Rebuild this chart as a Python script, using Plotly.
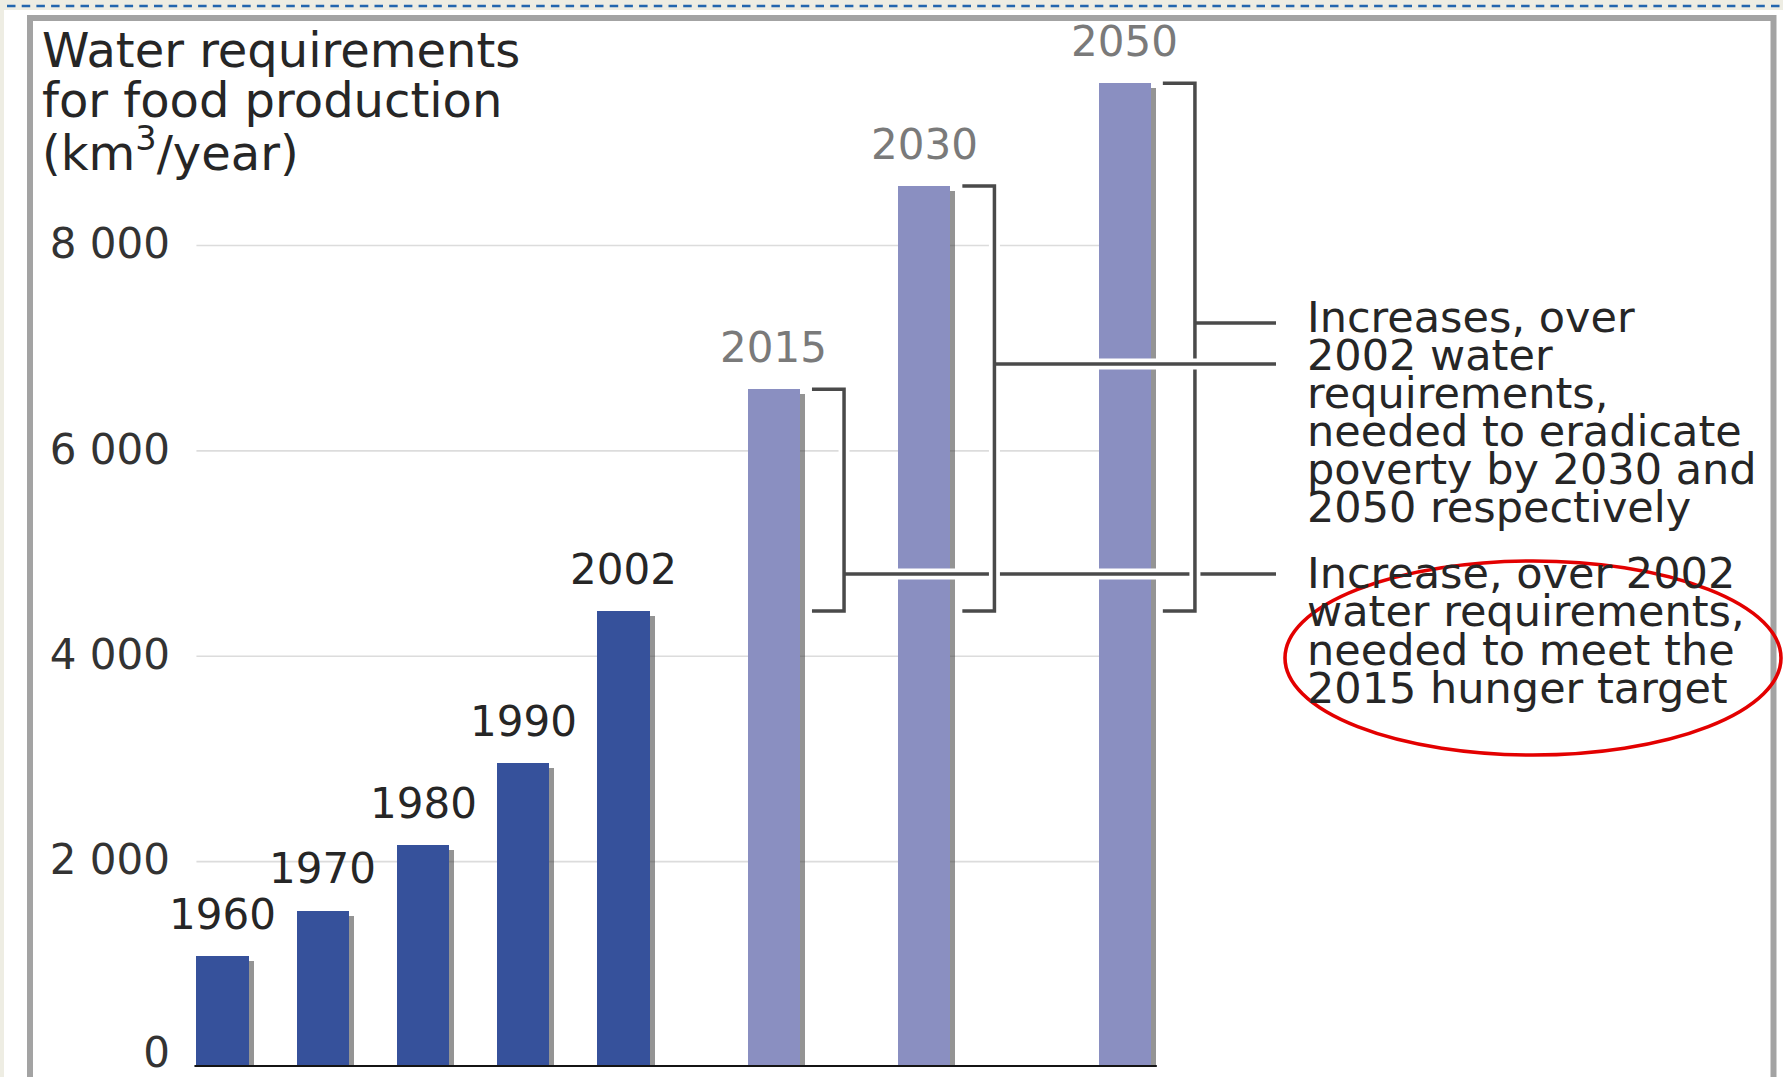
import plotly.graph_objects as go

# ---- data -------------------------------------------------------------
years = ["1960", "1970", "1980", "1990", "2002", "2015", "2030", "2050"]
water_km3 = [1080, 1520, 2160, 2960, 4440, 6600, 8580, 9580]
is_projection = [False, False, False, False, False, True, True, True]
baseline_year = "2002"

y_tick_values = [0, 2000, 4000, 6000, 8000]
y_tick_labels = ["0", "2 000", "4 000", "6 000", "8 000"]

title_lines = ["Water requirements", "for food production", "(km<sup>3</sup>/year)"]
note_poverty = ["Increases, over", "2002 water", "requirements,",
                "needed to eradicate", "poverty by 2030 and", "2050 respectively"]
note_hunger = ["Increase, over 2002", "water requirements,",
               "needed to meet the", "2015 hunger target"]

# ---- layout constants -------------------------------------------------
W, H = 1783, 1077
ML, MR, MT, MB = 190, 0, 0, 10
PLOT_W, PLOT_H = W - ML - MR, H - MT - MB
SLOT_PX = 100.25          # pixels per horizontal slot
SLOT0_PX = 222.5          # pixel centre of the first slot
PX_PER_KM3 = 0.10268      # vertical scale
slots = [0, 1, 2, 3, 4, 5.5, 7, 9]   # wider gaps before the projections
BAR_W = 0.52

FONT = "DejaVu Sans"
TEXT = "#262626"
DARK_BAR = "#36519B"
LIGHT_BAR = "#8A8FC1"
LINE = "#4A4A4A"

x_range = [(ML - SLOT0_PX) / SLOT_PX, (W - MR - SLOT0_PX) / SLOT_PX]
y_range = [0, PLOT_H / PX_PER_KM3]


def px_x(px):
    return (px - SLOT0_PX) / SLOT_PX


def px_y(py):
    return (H - MB - py) / PX_PER_KM3


def paper_x(px):
    return (px - ML) / PLOT_W


def paper_y(py):
    return (H - MB - py) / PLOT_H


bar_colors = [LIGHT_BAR if p else DARK_BAR for p in is_projection]
label_colors = ["#7a7a7a" if p else TEXT for p in is_projection]

fig = go.Figure()

# soft drop shadow on the right of each bar (base axis)
fig.add_trace(go.Bar(
    x=[s + 0.05 for s in slots], y=[v - 45 for v in water_km3], width=BAR_W,
    marker=dict(color="rgba(60,60,60,0.55)", line=dict(width=0)),
    hoverinfo="skip", showlegend=False, yaxis="y",
))
# the bars themselves, on the overlaid axis so they sit above the shadows
fig.add_trace(go.Bar(
    x=slots, y=water_km3, width=BAR_W, customdata=years,
    marker=dict(color=bar_colors, line=dict(width=0)),
    hovertemplate="%{customdata}: %{y} km³/year<extra></extra>",
    showlegend=False, yaxis="y2",
))

shapes = []
annotations = []

# page background: cream margin, white panel with grey frame, dashed rule
shapes.append(dict(type="rect", xref="paper", yref="paper", layer="below",
                   x0=paper_x(4), x1=paper_x(1800), y0=paper_y(1100), y1=paper_y(10),
                   fillcolor="white", line=dict(width=0)))
shapes.append(dict(type="rect", xref="paper", yref="paper", layer="below",
                   x0=paper_x(30), x1=paper_x(1773.5), y0=paper_y(1110), y1=paper_y(18),
                   fillcolor="rgba(0,0,0,0)", line=dict(color="#a3a3a3", width=6)))
shapes.append(dict(type="line", xref="paper", yref="paper", layer="below",
                   x0=paper_x(7), x1=paper_x(1783), y0=paper_y(6), y1=paper_y(6),
                   line=dict(color="#2366ae", width=2.5, dash="8.5px,6.2px")))

x_left = slots[0] - BAR_W / 2
x_right = slots[-1] + BAR_W / 2

# horizontal gridlines
for v in y_tick_values[1:]:
    shapes.append(dict(type="line", xref="x", yref="y", layer="below",
                       x0=x_left, x1=x_right, y0=v, y1=v,
                       line=dict(color="#dcdcdc", width=1.6)))

# x baseline
shapes.append(dict(type="line", xref="x", yref="y", layer="above",
                   x0=x_left - 0.02, x1=x_right + 0.06, y0=0, y1=0,
                   line=dict(color="#141414", width=4)))

# year labels above the bars
for s, v, yr, c in zip(slots, water_km3, years, label_colors):
    annotations.append(dict(x=s, y=v, xref="x", yref="y", text=yr, showarrow=False,
                            yanchor="middle", yshift=42,
                            font=dict(family=FONT, size=42, color=c)))


def cased(path_or_line, casing_offset=None):
    """A dark line drawn over a white casing, so it cuts what lies beneath."""
    out = []
    for color, width in (("white", 11), (LINE, 3.5)):
        d = dict(path_or_line)
        if color == "white" and casing_offset is not None:
            d["x0"] = d["x0"] + casing_offset
        d.update(xref="x", yref="y", layer="above", line=dict(color=color, width=width))
        out.append(d)
    return out


base_value = water_km3[years.index(baseline_year)]
conn_end = px_x(1276)


def bracket(i):
    bar_right = slots[i] + BAR_W / 2
    tx = bar_right + 0.12
    vx = bar_right + 0.44
    top = water_km3[i]
    path = f"M {tx},{top} L {vx},{top} L {vx},{base_value} L {tx},{base_value}"
    return vx, cased(dict(type="path", path=path))


i15, i30, i50 = years.index("2015"), years.index("2030"), years.index("2050")
vx15, br15 = bracket(i15)
vx30, br30 = bracket(i30)
vx50, br50 = bracket(i50)

y_hunger = px_y(574)
y_pov30 = px_y(364)
y_pov50 = px_y(323)

shapes += br15
shapes += cased(dict(type="line", x0=vx15, x1=conn_end, y0=y_hunger, y1=y_hunger), 0.03)
shapes += br30
shapes += br50
shapes += cased(dict(type="line", x0=vx30, x1=conn_end, y0=y_pov30, y1=y_pov30), 0.03)
shapes += cased(dict(type="line", x0=vx50, x1=conn_end, y0=y_pov50, y1=y_pov50), 0.03)

# red ellipse around the hunger note
shapes.append(dict(type="circle", xref="paper", yref="paper", layer="above",
                   x0=paper_x(1285), x1=paper_x(1781), y0=paper_y(755), y1=paper_y(561),
                   line=dict(color="#e30000", width=3.6)))

# chart title (top left)
for k, line in enumerate(title_lines):
    annotations.append(dict(xref="paper", yref="paper", x=paper_x(40), y=paper_y(50 + 50 * k),
                            text=line, showarrow=False, xanchor="left", yanchor="middle",
                            font=dict(family=FONT, size=48, color=TEXT)))

# notes on the right
for k, line in enumerate(note_poverty):
    annotations.append(dict(xref="paper", yref="paper", x=paper_x(1305), y=paper_y(317 + 38 * k),
                            text=line, showarrow=False, xanchor="left", yanchor="middle",
                            font=dict(family=FONT, size=43, color=TEXT)))
for k, line in enumerate(note_hunger):
    annotations.append(dict(xref="paper", yref="paper", x=paper_x(1305), y=paper_y(573 + 38.3 * k),
                            text=line, showarrow=False, xanchor="left", yanchor="middle",
                            font=dict(family=FONT, size=43, color=TEXT)))

tick_font = dict(family=FONT, size=42, color="#333333")
common_y = dict(range=y_range, showgrid=False, zeroline=False, showline=False, ticks="",
                automargin=False, ticklabelstandoff=19, ticklabeloverflow="allow",
                tickfont=tick_font, fixedrange=True)

fig.update_layout(
    width=W, height=H,
    margin=dict(l=ML, r=MR, t=MT, b=MB, pad=0, autoexpand=False),
    paper_bgcolor="#eeede3",
    plot_bgcolor="rgba(0,0,0,0)",
    barmode="overlay", bargap=0,
    showlegend=False,
    shapes=shapes,
    annotations=annotations,
    xaxis=dict(range=x_range, visible=False, fixedrange=True, automargin=False),
    # gridline ticks on the base axis, the zero tick (raised) on the overlaid one
    yaxis=dict(tickvals=y_tick_values[1:], ticktext=y_tick_labels[1:],
               ticklabelshift=-2, **common_y),
    yaxis2=dict(tickvals=y_tick_values[:1], ticktext=y_tick_labels[:1],
                ticklabelshift=-15, overlaying="y", side="left", anchor="x", **common_y),
)

fig.write_html("out.html")
